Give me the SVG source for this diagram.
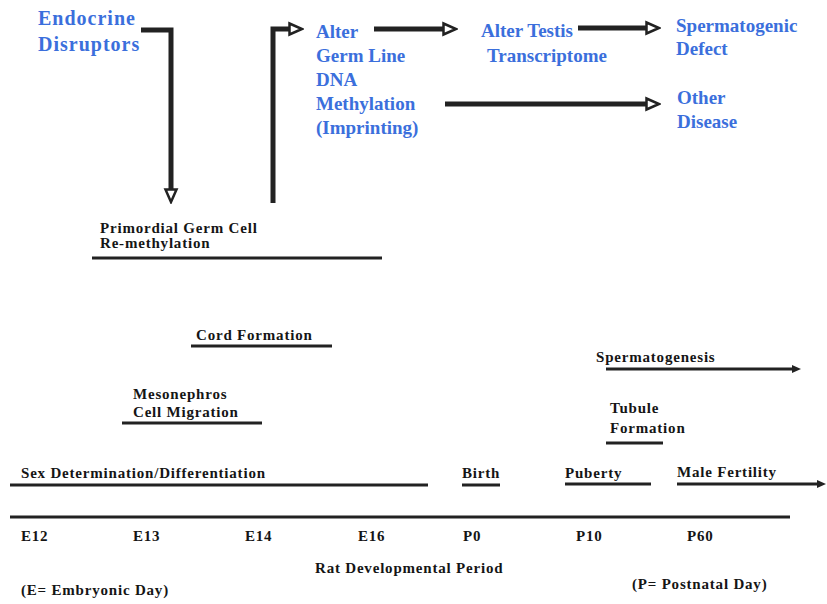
<svg xmlns="http://www.w3.org/2000/svg" width="827" height="604" viewBox="0 0 827 604">
<style>
.blue{font-weight:bold;font-size:19px;fill:#3b6fdc}
.big{font-size:20px;letter-spacing:1px}
.blk{font-weight:bold;font-size:15px;letter-spacing:0.8px;fill:#151515}
.bar{stroke:#222;stroke-width:3;fill:none}
.conn{stroke:#222;stroke-width:5;fill:none}
</style>
<defs>
<marker id="open" markerUnits="userSpaceOnUse" markerWidth="16" markerHeight="16" refX="2" refY="7" orient="auto" viewBox="0 0 16 14">
<path d="M1.5,1.5 L14,7 L1.5,12.5 Z" fill="#fff" stroke="#222" stroke-width="2.5"/>
</marker>
<marker id="solid" markerUnits="userSpaceOnUse" markerWidth="10" markerHeight="10" refX="1" refY="5" orient="auto" viewBox="0 0 10 10">
<path d="M0,1 L9,5 L0,9 Z" fill="#222"/>
</marker>
</defs>
<rect width="827" height="604" fill="#fff"/>
<g font-family="'Liberation Serif','Times New Roman',serif">
<g id="endocrine">
<text class="blue big" x="38" y="25">Endocrine</text>
<text class="blue big" x="38" y="51">Disruptors</text>
</g>
<g id="germline">
<text class="blue" x="316" y="38">Alter</text>
<text class="blue" x="316" y="62">Germ Line</text>
<text class="blue" x="316" y="86">DNA</text>
<text class="blue" x="316" y="110">Methylation</text>
<text class="blue" x="316" y="134">(Imprinting)</text>
</g>
<g id="testis">
<text class="blue" x="481" y="37">Alter Testis</text>
<text class="blue" x="487" y="62">Transcriptome</text>
</g>
<g id="spermdefect">
<text class="blue" x="676" y="32">Spermatogenic</text>
<text class="blue" x="676" y="55">Defect</text>
</g>
<g id="otherdisease">
<text class="blue" x="677" y="104">Other</text>
<text class="blue" x="677" y="128">Disease</text>
</g>

<g id="pgc">
<text class="blk" x="100" y="233">Primordial Germ Cell</text>
<text class="blk" x="100" y="248">Re-methylation</text>
<line class="bar" x1="92" y1="258" x2="382" y2="258"/>
</g>
<g id="cord">
<text class="blk" x="196" y="340">Cord Formation</text>
<line class="bar" x1="191" y1="346" x2="332" y2="346"/>
</g>
<g id="mesonephros">
<text class="blk" x="133" y="399">Mesonephros</text>
<text class="blk" x="133" y="417">Cell Migration</text>
<line class="bar" x1="122" y1="423" x2="262" y2="423"/>
</g>
<g id="spermatogenesis">
<text class="blk" x="596" y="362">Spermatogenesis</text>
<line class="bar" x1="606" y1="369" x2="793" y2="369" marker-end="url(#solid)"/>
</g>
<g id="tubule">
<text class="blk" x="610" y="413">Tubule</text>
<text class="blk" x="610" y="433">Formation</text>
<line class="bar" x1="606" y1="443" x2="663" y2="443"/>
</g>
<g id="sexdet">
<text class="blk" x="21" y="478">Sex Determination/Differentiation</text>
<line class="bar" x1="10" y1="485" x2="428" y2="485"/>
</g>
<g id="birth">
<text class="blk" x="462" y="478">Birth</text>
<line class="bar" x1="462" y1="485" x2="500" y2="485"/>
</g>
<g id="puberty">
<text class="blk" x="565" y="478">Puberty</text>
<line class="bar" x1="565" y1="484" x2="651" y2="484"/>
</g>
<g id="fertility">
<text class="blk" x="677" y="477">Male Fertility</text>
<line class="bar" x1="677" y1="484" x2="818" y2="484" marker-end="url(#solid)"/>
</g>
<g id="axis">
<line class="bar" x1="10" y1="517" x2="790" y2="517"/>
<text class="blk" x="21" y="541">E12</text>
<text class="blk" x="133" y="541">E13</text>
<text class="blk" x="245" y="541">E14</text>
<text class="blk" x="358" y="541">E16</text>
<text class="blk" x="463" y="541">P0</text>
<text class="blk" x="576" y="541">P10</text>
<text class="blk" x="687" y="541">P60</text>
<text class="blk" x="315" y="573">Rat Developmental Period</text>
<text class="blk" x="21" y="595">(E= Embryonic Day)</text>
<text class="blk" x="632" y="589">(P= Postnatal Day)</text>
</g>
</g>
<g id="connectors">
<path class="conn" d="M141,30 H171 V190" marker-end="url(#open)"/>
<path class="conn" d="M273,203 V29 H290" marker-end="url(#open)"/>
<path class="conn" d="M374,29 H444" marker-end="url(#open)"/>
<path class="conn" d="M578,28 H647" marker-end="url(#open)"/>
<path class="conn" d="M445,104 H647" marker-end="url(#open)"/>
</g>
</svg>
